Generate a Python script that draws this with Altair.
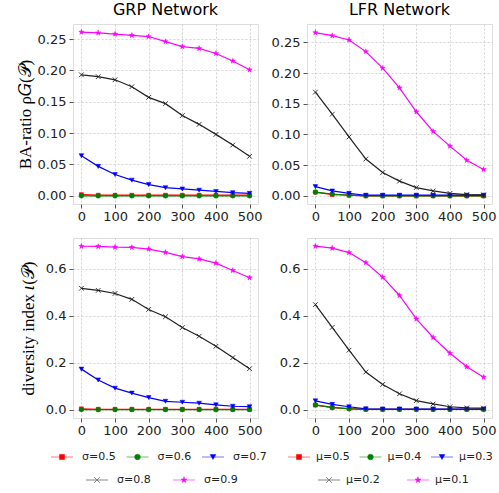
import altair as alt
import pandas as pd

# ---------------- data ----------------
x_vals = [0, 50, 100, 150, 200, 250, 300, 350, 400, 450, 500]

grp_labels = ["σ=0.5", "σ=0.6", "σ=0.7", "σ=0.8", "σ=0.9"]
lfr_labels = ["μ=0.5", "μ=0.4", "μ=0.3", "μ=0.2", "μ=0.1"]

# GRP network, BA-ratio
grp_ba_s05 = [0.002, 0.001, 0.001, 0.001, 0.001, 0.001, 0.001, 0.001, 0.001, 0.001, 0.001]
grp_ba_s06 = [0.000, 0.000, 0.000, 0.000, 0.000, 0.000, 0.000, 0.000, 0.000, 0.000, 0.000]
grp_ba_s07 = [0.064, 0.047, 0.034, 0.025, 0.018, 0.013, 0.011, 0.009, 0.007, 0.005, 0.004]
grp_ba_s08 = [0.193, 0.190, 0.185, 0.174, 0.157, 0.147, 0.128, 0.114, 0.098, 0.081, 0.063]
grp_ba_s09 = [0.261, 0.260, 0.258, 0.256, 0.254, 0.246, 0.238, 0.235, 0.227, 0.215, 0.201]

# LFR network, BA-ratio
lfr_ba_m05 = [0.006, 0.002, 0.001, 0.000, 0.000, 0.000, 0.000, 0.000, 0.000, 0.000, 0.000]
lfr_ba_m04 = [0.006, 0.003, 0.001, 0.000, 0.000, 0.000, 0.000, 0.000, 0.000, 0.000, 0.000]
lfr_ba_m03 = [0.015, 0.008, 0.004, 0.001, 0.001, 0.001, 0.001, 0.001, 0.001, 0.001, 0.001]
lfr_ba_m02 = [0.169, 0.133, 0.096, 0.060, 0.038, 0.024, 0.0135, 0.008, 0.004, 0.002, 0.0015]
lfr_ba_m01 = [0.266, 0.261, 0.254, 0.235, 0.208, 0.176, 0.137, 0.105, 0.081, 0.058, 0.043]

# GRP network, diversity index
grp_di_s05 = [0.004, 0.002, 0.002, 0.002, 0.002, 0.002, 0.002, 0.002, 0.002, 0.002, 0.002]
grp_di_s06 = [0.001, 0.001, 0.001, 0.001, 0.001, 0.001, 0.001, 0.001, 0.001, 0.001, 0.001]
grp_di_s07 = [0.173, 0.127, 0.092, 0.071, 0.052, 0.036, 0.032, 0.028, 0.021, 0.015, 0.013]
grp_di_s08 = [0.517, 0.508, 0.495, 0.470, 0.427, 0.396, 0.350, 0.313, 0.270, 0.222, 0.175]
grp_di_s09 = [0.696, 0.695, 0.692, 0.691, 0.684, 0.670, 0.652, 0.642, 0.624, 0.593, 0.562]

# LFR network, diversity index
lfr_di_m05 = [0.020, 0.009, 0.005, 0.002, 0.002, 0.002, 0.002, 0.002, 0.002, 0.002, 0.002]
lfr_di_m04 = [0.021, 0.010, 0.004, 0.002, 0.002, 0.002, 0.002, 0.002, 0.002, 0.002, 0.002]
lfr_di_m03 = [0.038, 0.023, 0.013, 0.004, 0.003, 0.003, 0.003, 0.003, 0.003, 0.003, 0.003]
lfr_di_m02 = [0.448, 0.351, 0.254, 0.161, 0.108, 0.068, 0.039, 0.025, 0.013, 0.008, 0.007]
lfr_di_m01 = [0.697, 0.689, 0.670, 0.627, 0.565, 0.487, 0.387, 0.308, 0.241, 0.183, 0.139]

x_ticks = [0, 100, 200, 300, 400, 500]
ba_ticks = [0.0, 0.05, 0.10, 0.15, 0.20, 0.25]
di_ticks = [0.0, 0.2, 0.4, 0.6]

# ---------------- styles ----------------
colors = ["#ff0000", "#008000", "#0000ff", "#222222", "#ff00ff"]
STAR = ("M0,-1L0.235,-0.324L0.951,-0.309L0.38,0.124L0.588,0.809L0,0.4"
        "L-0.588,0.809L-0.38,0.124L-0.951,-0.309L-0.235,-0.324Z")
XMARK = "M-1,-1L1,1M-1,1L1,-1"
shapes = ["square", "circle", "triangle-down", XMARK, STAR]
sizes = [16, 22, 22, 22, 30]
FONT = "DejaVu Sans"
SERIF = "Liberation Serif"
PW, PH = 185, 180


def panel(series, labels, ydom, yticks, yfmt, ytitle=None, title=None, titlex=-39):
    layers = []
    for i, ys in enumerate(series):
        df = pd.DataFrame({"x": x_vals, "y": ys})
        axis_x = alt.Axis(values=x_ticks, title=None, format="d", grid=True,
                          gridDash=[2, 2], gridColor="#c8c8c8", gridWidth=0.8,
                          domain=False, tickColor="#555555", tickSize=4,
                          labelFont=FONT, labelFontSize=13, labelColor="#222222",
                          labelPadding=2)
        ax_kwargs = dict(values=yticks, format=yfmt, grid=True,
                         gridDash=[2, 2], gridColor="#c8c8c8", gridWidth=0.8,
                         domain=False, tickColor="#555555", tickSize=4,
                         labelFont=FONT, labelFontSize=13, labelColor="#222222",
                         labelPadding=3)
        if ytitle is not None:
            ax_kwargs.update(title=ytitle, titleFont=SERIF, titleFontSize=17,
                             titleFontWeight="normal", titleColor="#000000",
                             titleX=titlex)
        else:
            ax_kwargs.update(title=None)
        axis_y = alt.Axis(**ax_kwargs)
        enc_x = alt.X("x:Q", scale=alt.Scale(domain=[-25, 525], nice=False, zero=False), axis=axis_x)
        enc_y = alt.Y("y:Q", scale=alt.Scale(domain=ydom, nice=False, zero=False), axis=axis_y)
        base = alt.Chart(df)
        line = base.mark_line(color=colors[i], strokeWidth=1.2, clip=True).encode(x=enc_x, y=enc_y)
        pts = base.mark_point(shape=shapes[i], size=sizes[i], filled=(i != 3),
                              color=colors[i], fill=colors[i] if i != 3 else "transparent",
                              stroke=colors[i], strokeWidth=0.9 if i == 3 else 0.5,
                              opacity=1).encode(x=enc_x, y=enc_y)
        layers += [line, pts]
    ch = alt.layer(*layers).properties(width=PW, height=PH)
    if title is not None:
        ch = ch.properties(title=alt.TitleParams(title, font=FONT, fontSize=16,
                                                 fontWeight="normal", color="#000000",
                                                 offset=6))
    return ch


def legend(labels, row_starts, row_steps, text_off):
    rows = [[0, 1, 2], [3, 4]]
    row_y = [5, 28]
    layers = []
    xs = alt.Scale(domain=[0, PW], nice=False, zero=False)
    ysc = alt.Scale(domain=[0, 40], nice=False, zero=False, reverse=True)
    for r, idxs in enumerate(rows):
        for c, i in enumerate(idxs):
            x0 = row_starts[r] + c * row_steps[r]
            df = pd.DataFrame({"x0": [x0], "x1": [x0 + 22], "xm": [x0 + 11],
                               "xt": [x0 + text_off], "y": [row_y[r]], "t": [labels[i]]})
            b = alt.Chart(df)
            layers.append(b.mark_rule(color=colors[i], strokeWidth=1.2, opacity=0.45).encode(
                x=alt.X("x0:Q", scale=xs, axis=None), x2="x1:Q",
                y=alt.Y("y:Q", scale=ysc, axis=None)))
            layers.append(b.mark_point(shape=shapes[i], size=sizes[i] + 10, filled=(i != 3),
                                       color=colors[i] if i != 3 else "#777777",
                                       fill=colors[i] if i != 3 else "transparent",
                                       stroke=colors[i] if i != 3 else "#777777",
                                       strokeWidth=0.9 if i == 3 else 0.5, opacity=1).encode(
                x=alt.X("xm:Q", scale=xs, axis=None), y=alt.Y("y:Q", scale=ysc, axis=None)))
            layers.append(b.mark_text(align="left", baseline="middle", font=FONT,
                                      fontSize=11, color="#222222").encode(
                x=alt.X("xt:Q", scale=xs, axis=None), y=alt.Y("y:Q", scale=ysc, axis=None),
                text="t:N"))
    return alt.layer(*layers).properties(width=PW, height=40,
                                         view=alt.ViewBackground(stroke="transparent"))


tl = panel([grp_ba_s05, grp_ba_s06, grp_ba_s07, grp_ba_s08, grp_ba_s09], grp_labels,
           [-0.013, 0.274], ba_ticks, ".2f", ytitle="BA-ratio ρ𝐺(𝒫)", title="GRP Network",
           titlex=-39)
tr = panel([lfr_ba_m05, lfr_ba_m04, lfr_ba_m03, lfr_ba_m02, lfr_ba_m01], lfr_labels,
           [-0.0133, 0.280], ba_ticks, ".2f", title="LFR Network")
bl = panel([grp_di_s05, grp_di_s06, grp_di_s07, grp_di_s08, grp_di_s09], grp_labels,
           [-0.035, 0.731], di_ticks, ".1f", ytitle="diversity index 𝜄(𝒫)", titlex=-36)
br = panel([lfr_di_m05, lfr_di_m04, lfr_di_m03, lfr_di_m02, lfr_di_m01], lfr_labels,
           [-0.035, 0.732], di_ticks, ".1f")
legL = legend(grp_labels, [-22, 13], [75.5, 87], 31)
legR = legend(lfr_labels, [-19, 11], [71.5, 89], 28)

chart = alt.concat(tl, tr, bl, br, legL, legR, columns=2,
                   spacing={"row": 34, "column": 49}, bounds="flush").properties(
    padding={"left": 15, "top": 1, "right": 0, "bottom": 0}
).configure_view(stroke="#888888", strokeWidth=1.3).configure(background="white")

chart.save("out.html", embed_options={"renderer": "svg", "actions": False})
